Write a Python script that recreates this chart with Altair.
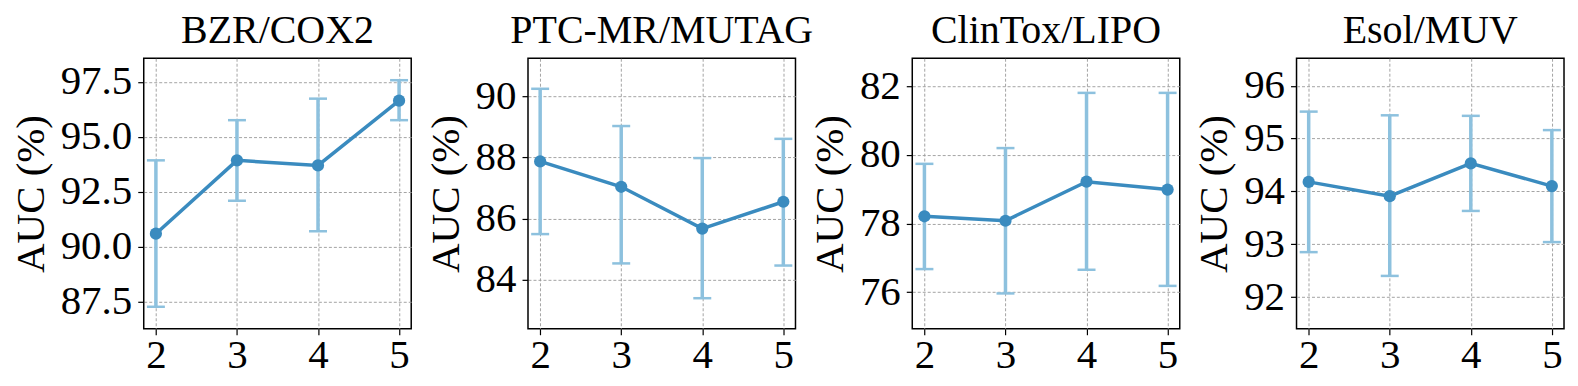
import altair as alt
import pandas as pd

# ---- data ----
titles = ["BZR/COX2", "PTC-MR/MUTAG", "ClinTox/LIPO", "Esol/MUV"]
x_vals = [2, 3, 4, 5]

mean_bzr = [90.59, 93.93, 93.70, 96.65]
low_bzr = [87.26, 92.09, 90.70, 95.76]
high_bzr = [93.93, 95.76, 96.74, 97.58]

mean_ptc = [87.87, 87.04, 85.67, 86.55]
low_ptc = [85.49, 84.53, 83.39, 84.46]
high_ptc = [90.25, 89.03, 87.98, 88.61]

mean_clin = [78.21, 78.08, 79.22, 78.99]
low_clin = [76.67, 75.96, 76.65, 76.18]
high_clin = [79.74, 80.20, 81.81, 81.81]

mean_esol = [94.18, 93.91, 94.53, 94.10]
low_esol = [92.85, 92.40, 93.63, 93.04]
high_esol = [95.51, 95.44, 95.43, 95.16]

y_domains = [[86.26, 98.58], [82.39, 91.25], [74.93, 82.82], [91.40, 96.52]]
y_ticks = [[87.5, 90.0, 92.5, 95.0, 97.5], [84, 86, 88, 90], [76, 78, 80, 82], [92, 93, 94, 95, 96]]
y_formats = [".1f", "d", "d", "d"]
x_domain = [1.85, 5.15]

means = [mean_bzr, mean_ptc, mean_clin, mean_esol]
lows = [low_bzr, low_ptc, low_clin, low_esol]
highs = [high_bzr, high_ptc, high_clin, high_esol]

DARK = "#3a8bbf"
LIGHT = "#8dc1de"
FONT = "Liberation Serif"


def panel(i):
    df = pd.DataFrame({"x": x_vals, "mean": means[i], "low": lows[i], "high": highs[i]})
    xenc = alt.X("x:Q", scale=alt.Scale(domain=x_domain, nice=False, zero=False),
                 axis=alt.Axis(values=x_vals, format="d", title=None, labelPadding=1))
    yscale = alt.Scale(domain=y_domains[i], nice=False, zero=False)
    yaxis = alt.Axis(values=y_ticks[i], format=y_formats[i], title="AUC (%)")

    def Y(field):
        return alt.Y(f"{field}:Q", scale=yscale, axis=yaxis, title="AUC (%)")

    base = alt.Chart(df)
    err = base.mark_rule(color=LIGHT, strokeWidth=3.5).encode(x=xenc, y=Y("low"), y2="high:Q")
    cap_lo = base.mark_rule(color=LIGHT, strokeWidth=2.5, xOffset=-9, x2Offset=9).encode(
        x=xenc, x2="x:Q", y=Y("low"))
    cap_hi = base.mark_rule(color=LIGHT, strokeWidth=2.5, xOffset=-9, x2Offset=9).encode(
        x=xenc, x2="x:Q", y=Y("high"))
    line = base.mark_line(color=DARK, strokeWidth=3.5).encode(x=xenc, y=Y("mean"))
    pts = base.mark_point(color=DARK, filled=True, opacity=1, size=150).encode(x=xenc, y=Y("mean"))
    return alt.layer(err, cap_lo, cap_hi, line, pts).properties(
        width=268, height=271, title=titles[i])


chart = alt.hconcat(*[panel(i) for i in range(4)], spacing=117, bounds="flush").properties(
    padding={"left": 1, "top": 2, "right": 5, "bottom": 0}
).configure_view(
    stroke="black", strokeWidth=1.5
).configure_axis(
    labelFont=FONT, labelFontSize=41, labelColor="black",
    titleFont=FONT, titleFontSize=41, titleFontWeight="normal", titleColor="black",
    tickColor="black", tickSize=6, tickWidth=1.2, domain=False,
    grid=True, gridColor="#999999", gridDash=[3, 2], gridWidth=0.9,
    labelPadding=6, titlePadding=8
).configure_title(
    font=FONT, fontSize=40, fontWeight="normal", color="black",
    baseline="alphabetic", offset=7, anchor="middle"
)

chart.save("out.html", embed_options={"renderer": "svg", "actions": False})
